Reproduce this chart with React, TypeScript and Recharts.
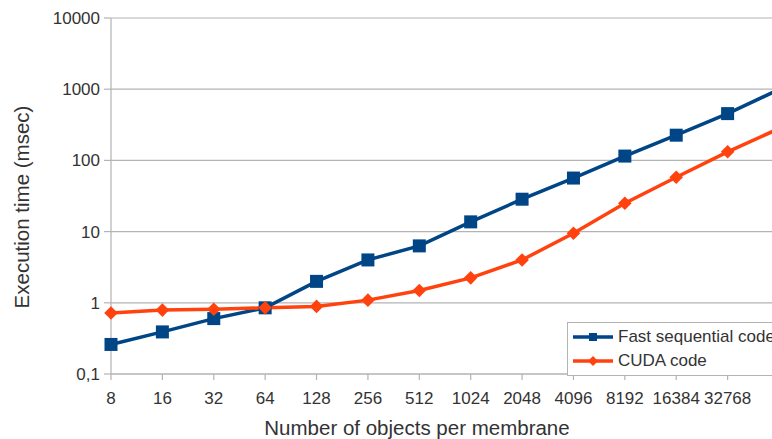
import { LineChart, Line, XAxis, YAxis, CartesianGrid } from "recharts";

const FONT = '"Liberation Sans", Arial, sans-serif';
const TEXT = "#333333";
const GRID = "#b3b3b3";
const BLUE = "#004586";
const ORANGE = "#ff420e";

// objects per membrane (x categories)
const sizes = ["8", "16", "32", "64", "128", "256", "512", "1024", "2048", "4096", "8192", "16384", "32768", "65536"];
// execution time in msec
const fastSequential = [0.26, 0.39, 0.6, 0.85, 2.0, 4.0, 6.3, 13.7, 28.5, 56.5, 115, 226, 454, 990];
const cudaCode = [0.72, 0.79, 0.81, 0.85, 0.89, 1.09, 1.49, 2.24, 4.0, 9.5, 25, 58, 132, 280];
const yTicks = [0.1, 1, 10, 100, 1000, 10000];

const data = sizes.map((size, i) => ({ size, fast: fastSequential[i], cuda: cudaCode[i] }));

const series = [
  { key: "fast", name: "Fast sequential code", color: BLUE, marker: "square" },
  { key: "cuda", name: "CUDA code", color: ORANGE, marker: "diamond" },
];

const SquareDot = (props: any) => {
  const { cx, cy } = props;
  if (cx == null || cy == null) return null;
  return <rect x={cx - 6.5} y={cy - 6.5} width={13} height={13} fill={BLUE} />;
};

const DiamondDot = (props: any) => {
  const { cx, cy } = props;
  if (cx == null || cy == null) return null;
  const r = 6.8;
  return <polygon points={`${cx},${cy - r} ${cx + r},${cy} ${cx},${cy + r} ${cx - r},${cy}`} fill={ORANGE} />;
};

// legend box sits over the lower right corner of the plot
const LegendBox = () => (
  <div
    style={{
      position: "absolute",
      left: 567,
      top: 322,
      width: 240,
      height: 50,
      border: `1px solid ${GRID}`,
      background: "#fff",
      fontFamily: FONT,
      fontSize: 17,
      color: TEXT,
      paddingTop: 2,
    }}
  >
    {series.map((s) => (
      <div key={s.key} style={{ display: "flex", alignItems: "center", height: 24, whiteSpace: "nowrap" }}>
        <svg width={50} height={14} style={{ flex: "none" }}>
          <line x1={5} y1={7} x2={45} y2={7} stroke={s.color} strokeWidth={3.5} />
          {s.marker === "square" ? (
            <rect x={21} y={3} width={8} height={8} fill={s.color} />
          ) : (
            <polygon points="25,2 30,7 25,12 20,7" fill={s.color} />
          )}
        </svg>
        <span>{s.name}</span>
      </div>
    ))}
  </div>
);

const formatY = (v: number) => (v < 1 ? String(v).replace(".", ",") : String(v));
const formatX = (v: string) => (v === "65536" ? "" : v);

export default function App() {
  return (
    <div style={{ position: "fixed", left: 0, top: 0, width: 772, height: 439, overflow: "hidden", background: "#fff" }}>
      <LineChart width={830} height={439} data={data} margin={{ top: 18, right: 51, bottom: 0, left: 0 }}>
        <CartesianGrid vertical={false} stroke={GRID} strokeWidth={1.2} />
        <XAxis
          dataKey="size"
          tickFormatter={formatX}
          interval={0}
          height={65}
          tickSize={6}
          tickMargin={12}
          axisLine={{ stroke: GRID, strokeWidth: 1.2 }}
          tickLine={{ stroke: GRID, strokeWidth: 1.2 }}
          tick={{ fill: TEXT, fontSize: 17, fontFamily: FONT }}
          label={{
            content: ({ viewBox }: any) => (
              <text
                x={viewBox.x + viewBox.width / 2 - 28}
                y={viewBox.y + 61}
                textAnchor="middle"
                fill={TEXT}
                fontSize={20.5}
                fontFamily={FONT}
              >
                Number of objects per membrane
              </text>
            ),
          }}
        />
        <YAxis
          scale="log"
          domain={[0.1, 10000]}
          ticks={yTicks}
          allowDataOverflow
          width={111}
          tickSize={7}
          tickMargin={4}
          tickFormatter={formatY}
          axisLine={{ stroke: GRID, strokeWidth: 1.2 }}
          tickLine={{ stroke: GRID, strokeWidth: 1.2 }}
          tick={{ fill: TEXT, fontSize: 17, fontFamily: FONT }}
          label={{
            content: ({ viewBox }: any) => {
              const x = viewBox.x + 29;
              const y = viewBox.y + viewBox.height / 2 + 11;
              return (
                <text
                  x={x}
                  y={y}
                  transform={`rotate(-90, ${x}, ${y})`}
                  textAnchor="middle"
                  fill={TEXT}
                  fontSize={20.5}
                  fontFamily={FONT}
                >
                  Execution time (msec)
                </text>
              );
            },
          }}
        />
        <Line
          type="linear"
          dataKey="fast"
          name="Fast sequential code"
          stroke={BLUE}
          strokeWidth={3.5}
          dot={<SquareDot />}
          activeDot={false}
          isAnimationActive={false}
        />
        <Line
          type="linear"
          dataKey="cuda"
          name="CUDA code"
          stroke={ORANGE}
          strokeWidth={3.5}
          dot={<DiamondDot />}
          activeDot={false}
          isAnimationActive={false}
        />
      </LineChart>
      <LegendBox />
    </div>
  );
}
